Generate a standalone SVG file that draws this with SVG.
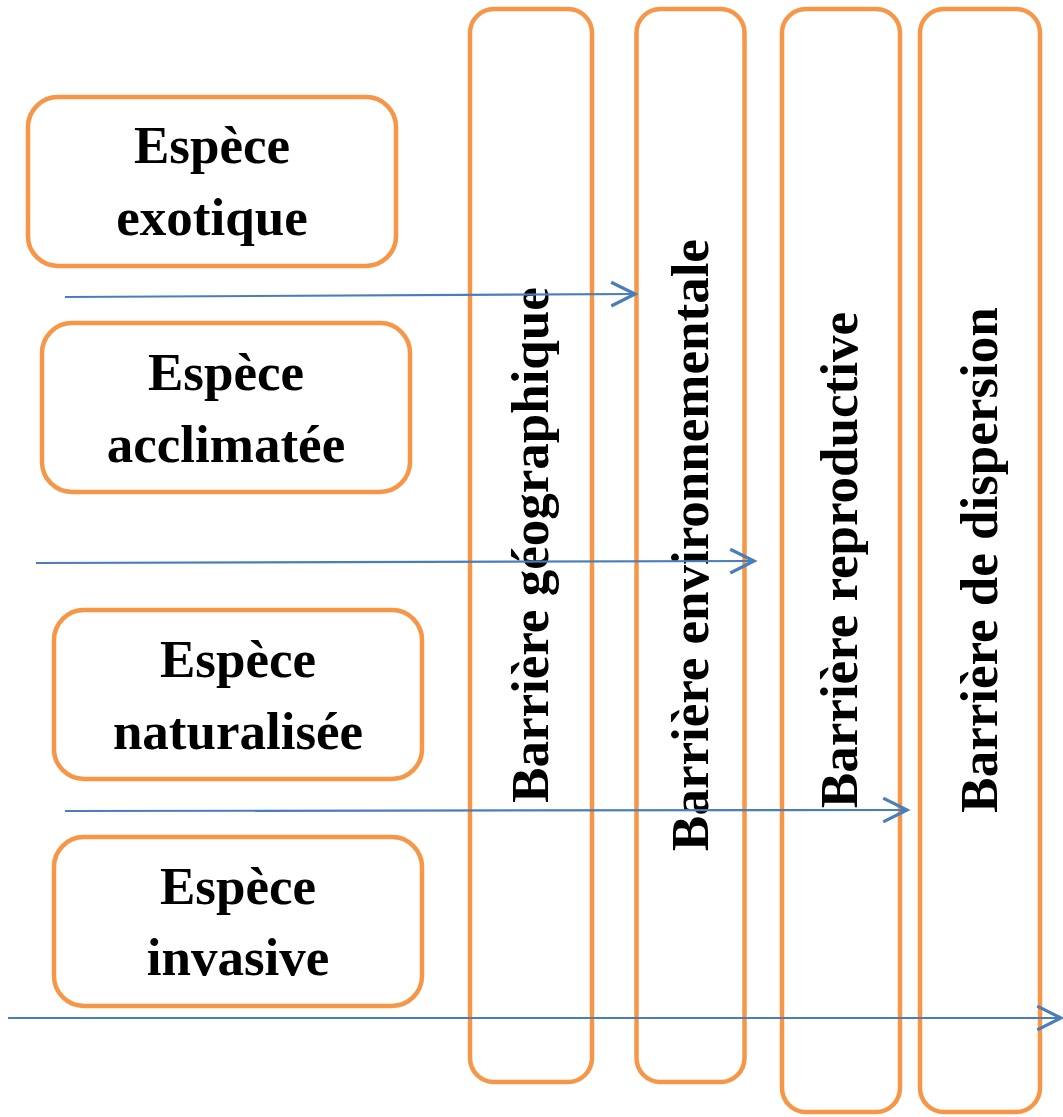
<svg xmlns="http://www.w3.org/2000/svg" width="1063" height="1117" viewBox="0 0 1063 1117">
<defs>
<style>
.box{fill:#fff;stroke:#F79646;stroke-width:4.5}
.bar{fill:none;stroke:#F79646;stroke-width:4.5}
.t{font-family:"Liberation Serif","Times New Roman",serif;font-weight:bold;font-size:53px;fill:#000;text-anchor:middle}
.arr{fill:none;stroke:#4A7EBB;stroke-width:2.2;marker-end:url(#ah)}
</style>
<marker id="ah" markerUnits="userSpaceOnUse" markerWidth="30" markerHeight="30" refX="0" refY="0" viewBox="-22 -12 24 24" orient="auto" overflow="visible">
<path d="M-19,-9.5 L0,0 L-19,9.5" fill="none" stroke="#4A7EBB" stroke-width="2.6"/>
</marker>
</defs>
<rect width="1063" height="1117" fill="#fff"/>
<g id="bar-geo">
<rect class="bar" x="470" y="9" width="122" height="1073" rx="24"/>
<text class="t" transform="translate(548,545) rotate(-90)">Barrière géographique</text>
</g>
<g id="bar-env">
<rect class="bar" x="636.5" y="9" width="108" height="1073" rx="24"/>
<text class="t" transform="translate(708,545) rotate(-90)">Barrière environnementale</text>
</g>
<g id="bar-rep">
<rect class="bar" x="782" y="9" width="118" height="1103" rx="24"/>
<text class="t" transform="translate(857,560) rotate(-90)">Barrière reproductive</text>
</g>
<g id="bar-dis">
<rect class="bar" x="920" y="9" width="120" height="1103" rx="24"/>
<text class="t" transform="translate(997,560) rotate(-90)">Barrière de dispersion</text>
</g>
<g id="box-exotique">
<rect class="box" x="28" y="97" width="368" height="169" rx="30"/>
<text class="t" x="212" y="163">Espèce</text>
<text class="t" x="212" y="235">exotique</text>
</g>
<g id="box-acclimatee">
<rect class="box" x="42" y="323" width="368" height="169" rx="30"/>
<text class="t" x="226" y="390">Espèce</text>
<text class="t" x="226" y="462">acclimatée</text>
</g>
<g id="box-naturalisee">
<rect class="box" x="54" y="610" width="368" height="169" rx="30"/>
<text class="t" x="238" y="677">Espèce</text>
<text class="t" x="238" y="749">naturalisée</text>
</g>
<g id="box-invasive">
<rect class="box" x="54" y="837" width="368" height="169" rx="30"/>
<text class="t" x="238" y="904">Espèce</text>
<text class="t" x="238" y="975">invasive</text>
</g>
<g id="connectors">
<path class="arr" d="M65,297 L635,294"/>
<path class="arr" d="M36,563 L754,561"/>
<path class="arr" d="M65,811 L907,810"/>
<path class="arr" d="M8,1018 L1061,1018"/>
</g>
</svg>
